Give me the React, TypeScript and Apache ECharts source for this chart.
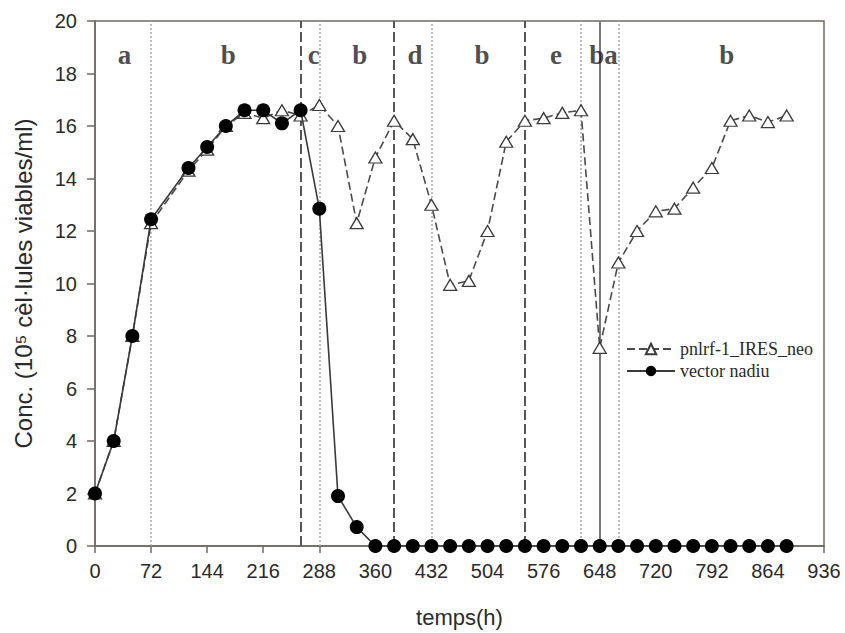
import React, { useEffect, useRef } from "react";
import * as echarts from "echarts";

// Time points (h)
const hoursNeo = [0, 24, 48, 72, 120, 144, 168, 192, 216, 240, 264, 288, 312, 336, 360, 384, 408, 432, 456, 480, 504, 528, 552, 576, 600, 624, 648, 672, 696, 720, 744, 768, 792, 816, 840, 864, 888];
const valuesNeo = [2.0, 4.0, 8.0, 12.3, 14.3, 15.1, 16.0, 16.5, 16.3, 16.6, 16.4, 16.8, 16.0, 12.3, 14.8, 16.2, 15.5, 13.0, 9.95, 10.1, 12.0, 15.4, 16.2, 16.3, 16.5, 16.6, 7.55, 10.8, 12.0, 12.75, 12.85, 13.65, 14.4, 16.2, 16.4, 16.15, 16.4];

const hoursNadiu = [0, 24, 48, 72, 120, 144, 168, 192, 216, 240, 264, 288, 312, 336, 360, 384, 408, 432, 456, 480, 504, 528, 552, 576, 600, 624, 648, 672, 696, 720, 744, 768, 792, 816, 840, 864, 888];
const valuesNadiu = [2.0, 4.0, 8.0, 12.45, 14.4, 15.2, 16.0, 16.6, 16.6, 16.1, 16.6, 12.85, 1.9, 0.72, 0, 0, 0, 0, 0, 0, 0, 0, 0, 0, 0, 0, 0, 0, 0, 0, 0, 0, 0, 0, 0, 0, 0];

// Phase separators
const dottedLines = [72, 288, 432, 624, 672];
const dashedLines = [264, 384, 552];
const solidLines = [648];

// Phase letters
const phaseLetters = ["a", "b", "c", "b", "d", "b", "e", "ba", "b"];
const phaseX = [38, 171, 281, 340, 411, 497, 592, 653, 811];
const phaseY = 18.7;

const xTicks = { min: 0, max: 936, interval: 72 };
const yTicks = { min: 0, max: 20, interval: 2 };

const seriesNames = ["pnlrf-1_IRES_neo", "vector nadiu"];

const axisColor = "#6f6863";
const textColor = "#2a2a2a";

export default function App() {
  const ref = useRef<HTMLDivElement>(null);
  useEffect(() => {
    document.body.style.margin = "0";
    if (!ref.current) return;
    const chart = echarts.init(ref.current, undefined, { renderer: "svg" });
    const neoData = hoursNeo.map((h, i) => [h, valuesNeo[i]]);
    const nadiuData = hoursNadiu.map((h, i) => [h, valuesNadiu[i]]);
    const letterData = phaseLetters.map((l, i) => ({ name: l, value: [phaseX[i], phaseY] }));

    const mk = (xs: number[], style: any) =>
      xs.map((x) => ({ xAxis: x, lineStyle: style }));

    chart.setOption({
      animation: false,
      backgroundColor: "#ffffff",
      grid: {
        left: 95,
        right: 21,
        top: 21,
        bottom: 87,
        show: true,
        borderColor: axisColor,
        borderWidth: 1.5,
        backgroundColor: "transparent",
      },
      legend: {
        data: seriesNames,
        orient: "vertical",
        left: 626,
        top: 340,
        padding: 0,
        itemGap: 4,
        itemWidth: 48,
        itemHeight: 13,
        textStyle: { fontFamily: "Liberation Serif", fontSize: 18, color: textColor },
      },
      xAxis: {
        type: "value",
        min: xTicks.min,
        max: xTicks.max,
        interval: xTicks.interval,
        name: "temps(h)",
        nameLocation: "middle",
        nameGap: 60,
        nameTextStyle: { fontFamily: "Liberation Sans", fontSize: 22, color: textColor },
        axisLine: { show: true, lineStyle: { color: axisColor, width: 1.5 } },
        axisTick: { show: true, length: 7, lineStyle: { color: axisColor, width: 1.5 } },
        axisLabel: { fontFamily: "Liberation Sans", fontSize: 20, color: textColor, margin: 15 },
        splitLine: { show: false },
      },
      yAxis: {
        type: "value",
        min: yTicks.min,
        max: yTicks.max,
        interval: yTicks.interval,
        name: "Conc. (10\u2075 c\u00e8l\u00b7lules viables/ml)",
        nameLocation: "middle",
        nameGap: 60,
        nameTextStyle: { fontFamily: "Liberation Sans", fontSize: 24, color: textColor },
        axisLine: { show: true, lineStyle: { color: axisColor, width: 1.5 } },
        axisTick: { show: true, length: 8, lineStyle: { color: axisColor, width: 1.5 } },
        axisLabel: { fontFamily: "Liberation Sans", fontSize: 20, color: textColor, margin: 18 },
        splitLine: { show: false },
      },
      series: [
        {
          name: "separators",
          type: "line",
          data: [],
          silent: true,
          z: 1,
          markLine: {
            silent: true,
            z: 1,
            symbol: "none",
            label: { show: false },
            data: [
              ...mk(dottedLines, { color: "#a8a8a8", width: 1.5, type: [2, 2] }),
              ...mk(dashedLines, { color: "#555555", width: 2, type: [10, 4] }),
              ...mk(solidLines, { color: "#777777", width: 2, type: "solid" }),
            ],
          },
        },
        {
          name: seriesNames[0],
          type: "line",
          data: neoData,
          symbol: "triangle",
          symbolSize: [13, 11],
          showSymbol: true,
          lineStyle: { color: "#4a4a4a", width: 1.6, type: [8, 4] },
          itemStyle: { color: "#ffffff", borderColor: "#3a3a3a", borderWidth: 1.3 },
          z: 3,
        },
        {
          name: seriesNames[1],
          type: "line",
          data: nadiuData,
          symbol: "circle",
          symbolSize: 14,
          showSymbol: true,
          lineStyle: { color: "#3a3a3a", width: 1.6, type: "solid" },
          itemStyle: { color: "#000000", borderColor: "#000000", borderWidth: 0 },
          z: 4,
        },
        {
          name: "phases",
          type: "scatter",
          data: letterData,
          symbolSize: 0,
          silent: true,
          label: {
            show: true,
            position: "inside",
            formatter: (p: any) => p.name,
            fontFamily: "Liberation Serif",
            fontWeight: "bold",
            fontSize: 27,
            color: "#1e1e1e",
          },
          z: 5,
        },
      ],
    });
    return () => chart.dispose();
  }, []);
  return <div ref={ref} style={{ width: 845, height: 633 }} />;
}
